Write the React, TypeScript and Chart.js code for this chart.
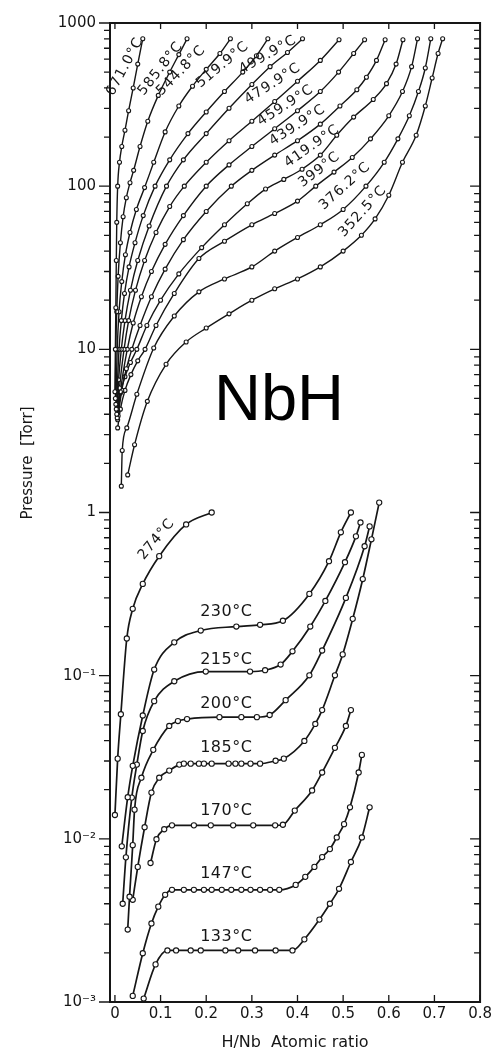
import React, { useEffect, useRef } from "react";
import { Chart, registerables } from "chart.js";

Chart.register(...registerables);

// ---------- axes ----------
const xTickValues = [0, 0.1, 0.2, 0.3, 0.4, 0.5, 0.6, 0.7, 0.8];
const xTickLabels = ["0", "0.1", "0.2", "0.3", "0.4", "0.5", "0.6", "0.7", "0.8"];
const yTickValues = [0.001, 0.01, 0.1, 1, 10, 100, 1000];
const yTickLabels = ["10⁻³", "10⁻²", "10⁻¹", "1", "10", "100", "1000"];
const X_MIN = -0.0108;
const X_MAX = 0.8;
const Y_MIN = 0.001;
const Y_MAX = 1000;

// ---------- high temperature isotherms (H/Nb, Torr) ----------
const t671X = [0.0, 0.001, 0.002, 0.003, 0.004, 0.006, 0.01, 0.015, 0.022, 0.03, 0.04, 0.05, 0.061];
const t671P = [5.5, 10, 18, 35, 60, 100, 140, 175, 220, 290, 400, 560, 800];

const t585X = [0.001, 0.002, 0.004, 0.007, 0.012, 0.018, 0.025, 0.033, 0.041, 0.055, 0.072, 0.095, 0.12, 0.14, 0.158];
const t585P = [5, 10, 17, 28, 45, 65, 85, 105, 125, 175, 250, 360, 500, 640, 800];

const t544X = [0.002, 0.005, 0.009, 0.015, 0.023, 0.033, 0.047, 0.065, 0.085, 0.11, 0.14, 0.17, 0.2, 0.23, 0.253];
const t544P = [4.6, 10, 17, 26, 38, 52, 72, 98, 140, 215, 310, 410, 520, 650, 800];

const t519X = [0.003, 0.009, 0.014, 0.021, 0.031, 0.044, 0.062, 0.088, 0.12, 0.16, 0.2, 0.24, 0.28, 0.31, 0.335];
const t519P = [4.3, 10, 15, 22, 32, 45, 66, 100, 145, 210, 285, 380, 500, 630, 800];

const t499X = [0.004, 0.008, 0.014, 0.022, 0.034, 0.05, 0.075, 0.113, 0.15, 0.2, 0.25, 0.3, 0.34, 0.378, 0.411];
const t499P = [4.0, 6.5, 10, 15, 23, 35, 57, 100, 145, 210, 300, 420, 540, 660, 800];

const t479X = [0.005, 0.01, 0.02, 0.03, 0.045, 0.065, 0.09, 0.12, 0.152, 0.2, 0.25, 0.3, 0.35, 0.4, 0.45, 0.491];
const t479P = [3.8, 5.8, 10, 15, 23, 35, 52, 75, 100, 140, 190, 250, 330, 440, 590, 790];

const t459X = [0.006, 0.012, 0.027, 0.04, 0.058, 0.08, 0.11, 0.15, 0.2, 0.25, 0.3, 0.35, 0.4, 0.45, 0.49, 0.523, 0.547];
const t459P = [3.7, 5.5, 10, 14.5, 21, 30, 44, 66, 100, 135, 175, 225, 290, 380, 500, 650, 790];

const t439X = [0.007, 0.015, 0.025, 0.037, 0.055, 0.08, 0.11, 0.15, 0.2, 0.255, 0.3, 0.35, 0.4, 0.45, 0.493, 0.53, 0.551, 0.573, 0.592];
const t439P = [3.9, 5.6, 7.6, 10, 14, 21, 31, 47, 70, 100, 125, 155, 190, 240, 310, 390, 465, 590, 790];

const t419X = [0.006, 0.012, 0.022, 0.034, 0.048, 0.07, 0.1, 0.14, 0.19, 0.24, 0.29, 0.33, 0.37, 0.41, 0.45, 0.486, 0.523, 0.566, 0.595, 0.616, 0.631];
const t419P = [4.2, 5.4, 6.8, 8.3, 10, 14, 20, 29, 42, 58, 78, 96, 110, 127, 155, 205, 265, 340, 425, 560, 790];

const t399X = [0.006, 0.012, 0.022, 0.035, 0.05, 0.066, 0.09, 0.13, 0.184, 0.24, 0.3, 0.35, 0.4, 0.44, 0.48, 0.52, 0.56, 0.6, 0.63, 0.65, 0.663];
const t399P = [3.3, 4.3, 5.6, 7, 8.5, 10, 14, 22, 36, 46, 58, 68, 81, 100, 122, 150, 195, 270, 380, 540, 800];

const t376X = [0.014, 0.016, 0.026, 0.048, 0.085, 0.13, 0.184, 0.24, 0.3, 0.35, 0.4, 0.45, 0.5, 0.55, 0.59, 0.62, 0.645, 0.665, 0.68, 0.692];
const t376P = [1.45, 2.4, 3.3, 5.3, 10.2, 16, 22.5, 27, 32, 40, 48.5, 58, 72, 100, 140, 195, 270, 380, 530, 800];

const t352X = [0.028, 0.043, 0.071, 0.112, 0.156, 0.2, 0.25, 0.3, 0.35, 0.4, 0.45, 0.5, 0.54, 0.57, 0.6, 0.63, 0.66, 0.68, 0.695, 0.708, 0.718];
const t352P = [1.7, 2.6, 4.8, 8.1, 11.1, 13.5, 16.5, 20, 23.5, 27, 32, 40, 50, 63, 88, 140, 205, 310, 460, 650, 800];

// ---------- low temperature isotherms ----------
const t274X = [0.0, 0.006, 0.013, 0.026, 0.039, 0.061, 0.097, 0.156, 0.212];
const t274P = [0.014, 0.031, 0.058, 0.169, 0.257, 0.365, 0.54, 0.845, 1.0];

const t230X = [0.015, 0.028, 0.039, 0.061, 0.086, 0.13, 0.188, 0.266, 0.318, 0.368, 0.426, 0.469, 0.495, 0.517];
const t230P = [0.009, 0.018, 0.028, 0.057, 0.109, 0.16, 0.189, 0.2, 0.205, 0.217, 0.317, 0.503, 0.756, 1.0];

const t215X = [0.017, 0.024, 0.037, 0.048, 0.061, 0.086, 0.13, 0.199, 0.296, 0.329, 0.363, 0.389, 0.428, 0.461, 0.504, 0.528, 0.538];
const t215P = [0.004, 0.0077, 0.0179, 0.0285, 0.0458, 0.0698, 0.0924, 0.106, 0.106, 0.108, 0.117, 0.141, 0.2, 0.287, 0.496, 0.714, 0.869];

const t200X = [0.028, 0.032, 0.039, 0.043, 0.058, 0.084, 0.119, 0.138, 0.158, 0.229, 0.277, 0.311, 0.339, 0.374, 0.426, 0.454, 0.506, 0.547, 0.558];
const t200P = [0.00278, 0.00442, 0.00915, 0.0151, 0.0237, 0.0351, 0.0492, 0.0527, 0.0542, 0.0557, 0.0557, 0.0557, 0.0574, 0.0708, 0.1005, 0.1426, 0.2997, 0.621, 0.822];

const t185X = [0.039, 0.05, 0.065, 0.08, 0.097, 0.119, 0.141, 0.151, 0.166, 0.184, 0.195, 0.212, 0.249, 0.264, 0.277, 0.297, 0.318, 0.352, 0.37, 0.415, 0.439, 0.454, 0.482, 0.499, 0.521, 0.543, 0.562, 0.579];
const t185P = [0.00423, 0.00673, 0.01178, 0.0192, 0.0237, 0.0262, 0.0285, 0.0289, 0.0289, 0.0289, 0.0289, 0.0289, 0.0289, 0.0289, 0.0289, 0.0289, 0.0289, 0.0301, 0.031, 0.0398, 0.0506, 0.0615, 0.1005, 0.135, 0.223, 0.391, 0.685, 1.15];

const t170X = [0.078, 0.091, 0.108, 0.125, 0.173, 0.21, 0.259, 0.303, 0.351, 0.368, 0.394, 0.432, 0.454, 0.482, 0.506, 0.517];
const t170P = [0.00711, 0.00995, 0.01145, 0.0121, 0.0121, 0.0121, 0.0121, 0.0121, 0.0121, 0.0122, 0.0149, 0.0198, 0.0255, 0.0361, 0.0492, 0.0615];

const t147X = [0.039, 0.061, 0.08, 0.095, 0.11, 0.125, 0.151, 0.173, 0.195, 0.212, 0.234, 0.255, 0.277, 0.297, 0.318, 0.34, 0.36, 0.396, 0.417, 0.437, 0.454, 0.471, 0.486, 0.502, 0.515, 0.534, 0.541];
const t147P = [0.00109, 0.00199, 0.00303, 0.00384, 0.00454, 0.00487, 0.00487, 0.00487, 0.00487, 0.00487, 0.00487, 0.00487, 0.00487, 0.00487, 0.00487, 0.00487, 0.00487, 0.00522, 0.00585, 0.00673, 0.00773, 0.00865, 0.0102, 0.0123, 0.0156, 0.0255, 0.0327];

const t133X = [0.063, 0.089, 0.115, 0.134, 0.166, 0.188, 0.242, 0.27, 0.307, 0.352, 0.389, 0.415, 0.448, 0.471, 0.491, 0.517, 0.541, 0.558];
const t133P = [0.00105, 0.0017, 0.00207, 0.00207, 0.00207, 0.00207, 0.00207, 0.00207, 0.00207, 0.00207, 0.00207, 0.00242, 0.0032, 0.004, 0.00494, 0.00721, 0.0102, 0.0156];

const series = [
  { name: "671.0°C", x: t671X, p: t671P, high: true },
  { name: "585.8°C", x: t585X, p: t585P, high: true },
  { name: "544.8°C", x: t544X, p: t544P, high: true },
  { name: "519.9°C", x: t519X, p: t519P, high: true },
  { name: "499.9°C", x: t499X, p: t499P, high: true },
  { name: "479.9°C", x: t479X, p: t479P, high: true },
  { name: "459.9°C", x: t459X, p: t459P, high: true },
  { name: "439.9°C", x: t439X, p: t439P, high: true },
  { name: "419.9°C", x: t419X, p: t419P, high: true },
  { name: "399°C", x: t399X, p: t399P, high: true },
  { name: "376.2°C", x: t376X, p: t376P, high: true },
  { name: "352.5°C", x: t352X, p: t352P, high: true },
  { name: "274°C", x: t274X, p: t274P, high: false },
  { name: "230°C", x: t230X, p: t230P, high: false },
  { name: "215°C", x: t215X, p: t215P, high: false },
  { name: "200°C", x: t200X, p: t200P, high: false },
  { name: "185°C", x: t185X, p: t185P, high: false },
  { name: "170°C", x: t170X, p: t170P, high: false },
  { name: "147°C", x: t147X, p: t147P, high: false },
  { name: "133°C", x: t133X, p: t133P, high: false },
];

// label anchors (data coordinates) and rotation in degrees
const curveLabels = [
  { text: "671.0°C", x: 0.022, p: 540, angle: -62 },
  { text: "585.8°C", x: 0.1, p: 525, angle: -52 },
  { text: "544.8°C", x: 0.145, p: 511, angle: -46 },
  { text: "519.9°C", x: 0.236, p: 555, angle: -40 },
  { text: "499.9°C", x: 0.335, p: 638, angle: -30 },
  { text: "479.9°C", x: 0.346, p: 425, angle: -33 },
  { text: "459.9°C", x: 0.374, p: 312, angle: -33 },
  { text: "439.9°C", x: 0.4, p: 236, angle: -33 },
  { text: "419.9°C", x: 0.432, p: 176, angle: -35 },
  { text: "399°C", x: 0.448, p: 126, angle: -38 },
  { text: "376.2°C", x: 0.504, p: 100, angle: -42 },
  { text: "352.5°C", x: 0.543, p: 70, angle: -48 },
  { text: "274°C", x: 0.091, p: 0.685, angle: -50 },
  { text: "230°C", x: 0.244, p: 0.246, angle: 0 },
  { text: "215°C", x: 0.244, p: 0.1257, angle: 0 },
  { text: "200°C", x: 0.244, p: 0.067, angle: 0 },
  { text: "185°C", x: 0.244, p: 0.0361, angle: 0 },
  { text: "170°C", x: 0.244, p: 0.0149, angle: 0 },
  { text: "147°C", x: 0.244, p: 0.0061, angle: 0 },
  { text: "133°C", x: 0.244, p: 0.00252, angle: 0 },
];

const INK = "#161616";
const FONT = '"DejaVu Sans", "Liberation Sans", sans-serif';

const decorPlugin = {
  id: "decor",
  afterDraw(chart: any) {
    const { ctx, chartArea: a, scales } = chart;
    const xs = scales.x;
    const ys = scales.y;
    ctx.save();
    // frame
    ctx.strokeStyle = INK;
    ctx.lineWidth = 2;
    ctx.strokeRect(a.left, a.top, a.right - a.left, a.bottom - a.top);
    // y ticks: major and minor, outward on the left, inward on the right
    ctx.lineWidth = 1.3;
    ctx.beginPath();
    for (let e = -3; e <= 3; e++) {
      for (let m = 1; m <= 9; m++) {
        const v = m * Math.pow(10, e);
        if (v > Y_MAX * 1.0001) continue;
        const py = ys.getPixelForValue(v);
        const len = m === 1 ? 11 : 6;
        ctx.moveTo(a.left - len, py);
        ctx.lineTo(a.left, py);
        ctx.moveTo(a.right - (m === 1 ? 10 : 6), py);
        ctx.lineTo(a.right, py);
      }
    }
    // x ticks inward at top and bottom
    xTickValues.forEach((v) => {
      const px = xs.getPixelForValue(v);
      ctx.moveTo(px, a.bottom);
      ctx.lineTo(px, a.bottom - 7);
      ctx.moveTo(px, a.top);
      ctx.lineTo(px, a.top + 6);
    });
    ctx.stroke();

    // curve labels
    ctx.fillStyle = INK;
    ctx.textAlign = "center";
    ctx.textBaseline = "middle";
    curveLabels.forEach((l) => {
      const px = xs.getPixelForValue(l.x);
      const py = ys.getPixelForValue(l.p);
      ctx.save();
      ctx.translate(px, py);
      ctx.rotate((l.angle * Math.PI) / 180);
      ctx.font = `${l.angle === 0 ? 16 : 14}px ${FONT}`;
      (ctx as any).letterSpacing = l.angle === 0 ? "0.5px" : "1px";
      ctx.fillText(l.text, 0, 0);
      ctx.restore();
    });

    // axis titles
    ctx.font = `15px ${FONT}`;
    ctx.save();
    ctx.translate(28, 463);
    ctx.rotate(-Math.PI / 2);
    ctx.fillText("Pressure  [Torr]", 0, 0);
    ctx.restore();
    ctx.font = `16px ${FONT}`;
    ctx.fillText("H/Nb  Atomic ratio", 295, 1043);

    // big compound label
    ctx.font = '65px "Liberation Sans", Arial, sans-serif';
    ctx.textBaseline = "alphabetic";
    ctx.fillStyle = "#000";
    ctx.fillText("NbH", 279, 420);
    ctx.restore();
  },
};

export default function App() {
  const canvasRef = useRef<HTMLCanvasElement | null>(null);

  useEffect(() => {
    const canvas = canvasRef.current;
    if (!canvas) return;
    const datasets = series.map((s) => ({
      label: s.name,
      data: s.x.map((x, i) => ({ x, y: s.p[i] })),
      borderColor: INK,
      borderWidth: s.high ? 1.4 : 1.7,
      pointRadius: s.high ? 2 : 2.6,
      pointHoverRadius: 0,
      pointBackgroundColor: "#ffffff",
      pointBorderColor: INK,
      pointBorderWidth: 1.1,
      cubicInterpolationMode: "monotone" as const,
      fill: false,
    }));

    const chart = new Chart(canvas, {
      type: "line",
      data: { datasets },
      options: {
        animation: false,
        responsive: false,
        maintainAspectRatio: false,
        layout: { padding: { top: 16, right: 10, bottom: 0, left: 0 } },
        plugins: { legend: { display: false }, tooltip: { enabled: false } },
        scales: {
          x: {
            type: "linear",
            min: X_MIN,
            max: X_MAX,
            afterBuildTicks: (s: any) => {
              s.ticks = xTickValues.map((v) => ({ value: v }));
            },
            afterFit: (s: any) => {
              s.height = 53;
            },
            grid: { display: false, drawTicks: false },
            border: { display: false },
            ticks: {
              autoSkip: false,
              maxRotation: 0,
              padding: 3,
              color: INK,
              font: { family: FONT, size: 15 },
              callback: (_v: any, i: number) => xTickLabels[i],
            },
          },
          y: {
            type: "logarithmic",
            min: Y_MIN,
            max: Y_MAX,
            afterBuildTicks: (s: any) => {
              s.ticks = yTickValues.map((v) => ({ value: v }));
            },
            afterFit: (s: any) => {
              s.width = 110;
            },
            grid: { display: false, drawTicks: false },
            border: { display: false },
            ticks: {
              autoSkip: false,
              padding: 14,
              color: INK,
              font: { family: FONT, size: 15 },
              callback: (_v: any, i: number) => yTickLabels[i],
            },
          },
        },
      },
      plugins: [decorPlugin],
    });
    return () => chart.destroy();
  }, []);

  return (
    <div style={{ position: "absolute", left: 0, top: 0, width: 495, height: 1055, background: "#fff" }}>
      <canvas ref={canvasRef} width={495} height={1055} style={{ width: 495, height: 1055, display: "block" }} />
    </div>
  );
}
